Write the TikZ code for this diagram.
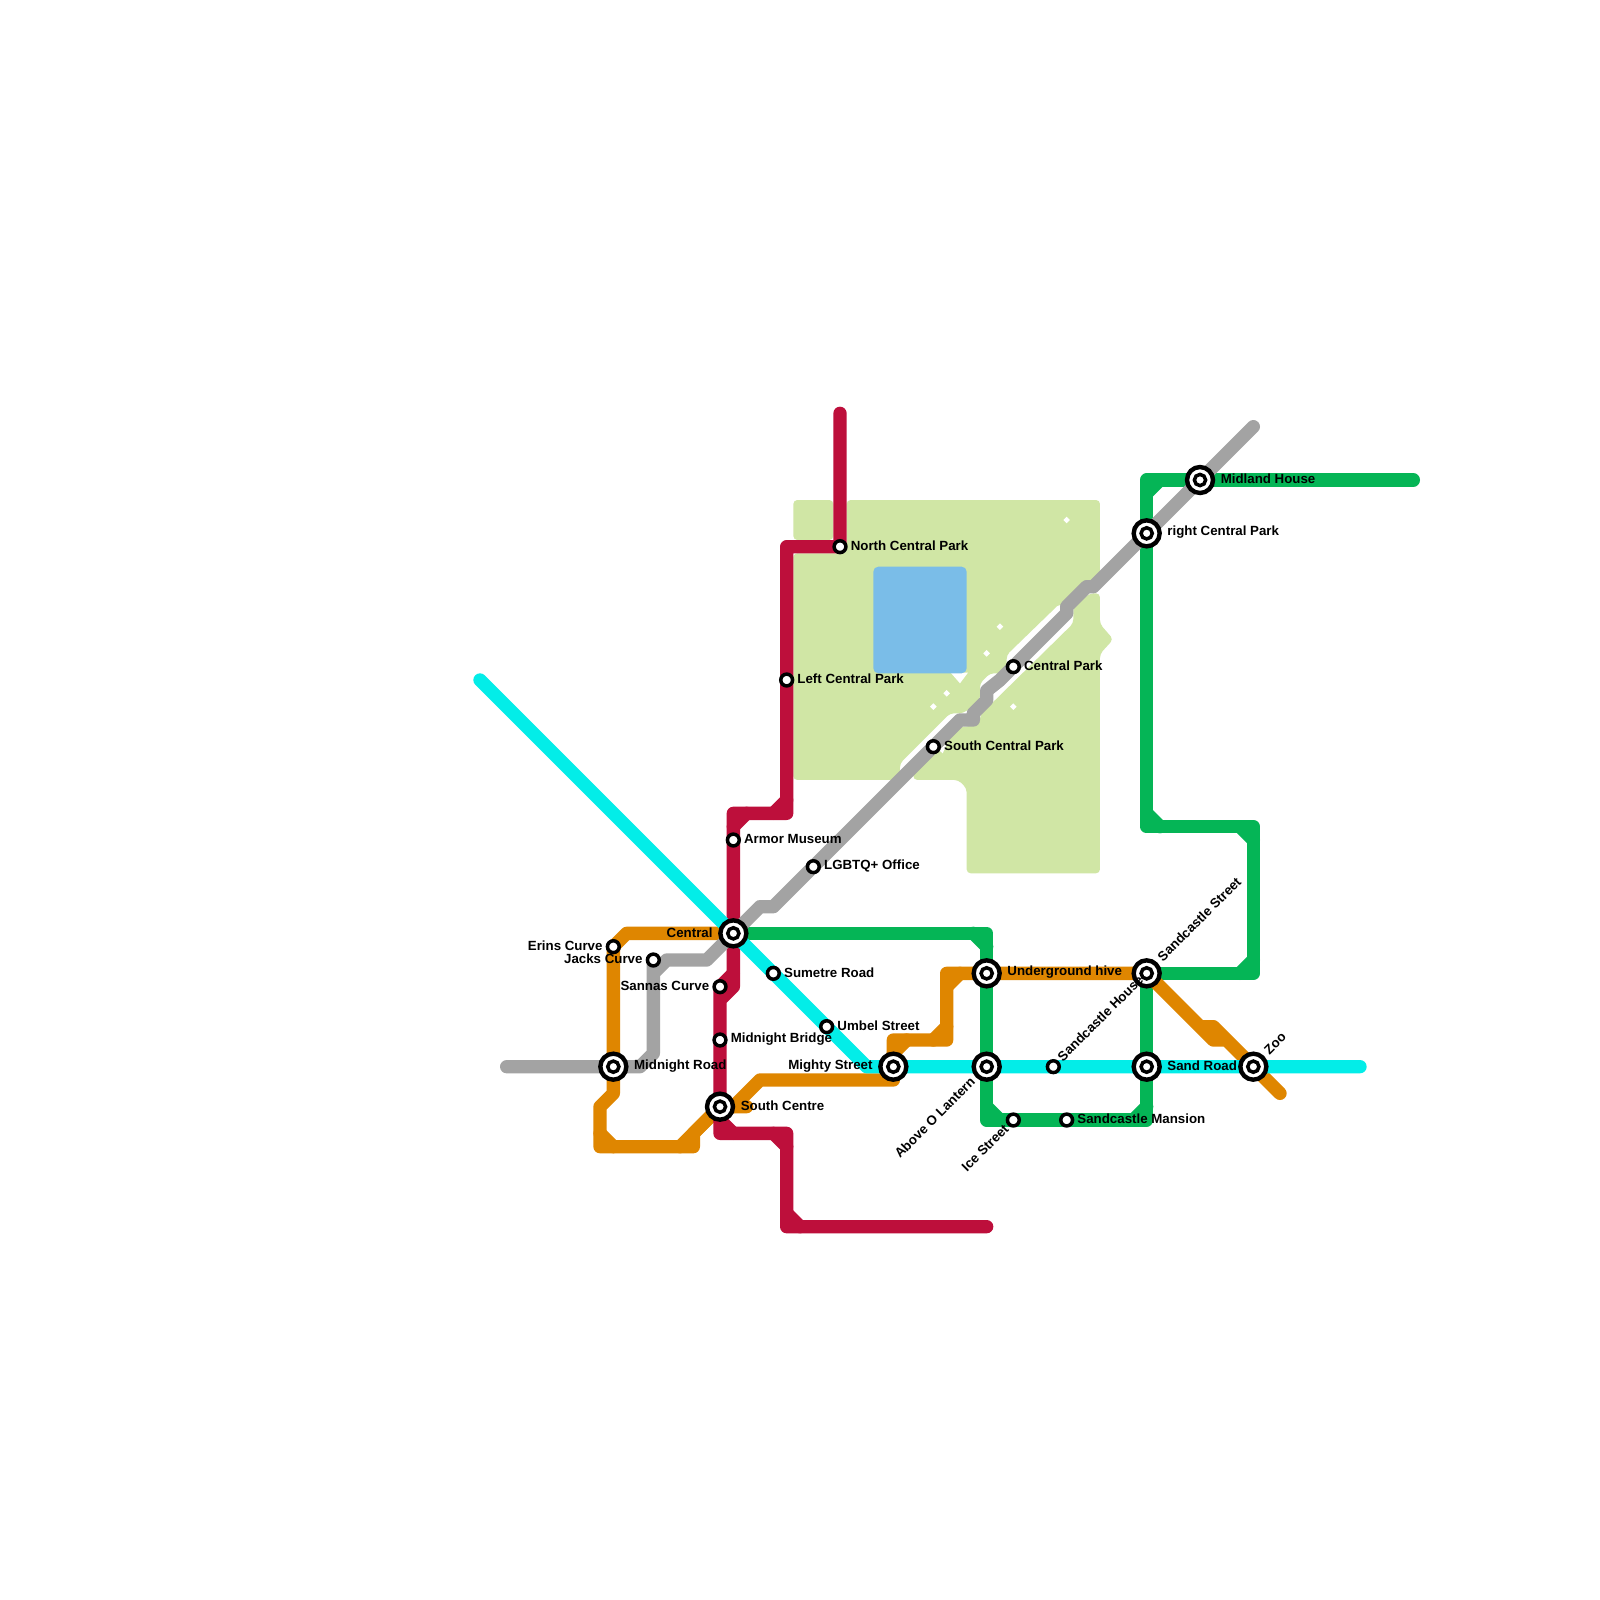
\documentclass[tikz,border=0pt]{standalone}
\usepackage{fontspec}
\setmainfont{Liberation Sans}
\definecolor{parkc}{HTML}{D0E6A5}
\definecolor{lakec}{HTML}{7ABDE8}
\definecolor{cyanl}{HTML}{03EDE8}
\definecolor{greyl}{HTML}{A3A3A3}
\definecolor{redl}{HTML}{BD0F3B}
\definecolor{greenl}{HTML}{05B556}
\definecolor{orangel}{HTML}{DF8600}
\tikzset{
  metro/.style={line width=13.33pt,line join=round,line cap=round},
  park/.style={fill=parkc,rounded corners=4pt},
  gapmark/.style={fill=white},
  stopst/.style={circle,draw=black,fill=white,line width=3.5pt,outer sep=0pt,minimum size=11.8pt,inner sep=0pt},
  hubouter/.style={circle,draw=black,fill=white,line width=4.4pt,outer sep=0pt,minimum size=26pt,inner sep=0pt},
  hubinner/.style={circle,draw=black,fill=white,line width=3.5pt,outer sep=0pt,minimum size=11.2pt,inner sep=0pt},
  lbl/.style={font=\fontsize{13.3}{15}\selectfont\bfseries,inner sep=0pt,text=black},
  lblr/.style={lbl,anchor=west},
  lbll/.style={lbl,anchor=east},
  lblu/.style={lbl,anchor=west,rotate=45},
  lbld/.style={lbl,anchor=east,rotate=45},
}
\newcommand{\hub}[2]{\node[hubouter] (#1) at (#2) {};\node[hubinner] (#1-in) at (#2) {};}
\begin{document}
\begin{tikzpicture}[x=13.3333pt,y=-13.3333pt]
\fill[white] (0,0) rectangle (120,120);
\useasboundingbox (0,0) rectangle (120,120);
% park, in 3x crop coordinates
\begin{scope}[shift={(57,36)},x=0.3333pt,y=-0.3333pt]
\fill[park] (100,60) -- (220,60) -- (220,180) -- (100,180) -- cycle;
\fill[park] (260,60) -- (1020,60) -- (1020,300) -- (990,300) -- (910,380) -- (900,370) -- (740,525) -- (740,580) -- (690,580) -- (660,610) -- (660,660) -- (610,700) -- (570,700) -- (420,850) -- (420,900) -- (100,900) -- (100,220) -- (260,220) -- cycle;
\fill[park] (460,870) -- (600,740) -- (630,740) -- (660,710) -- (660,705) -- (940,430) -- (940,380) -- (990,340) -- (1020,340) -- (1020,432) -- (1060,478) -- (1020,522) -- (1020,1180) -- (620,1180) -- (620,925) -- (595,900) -- (460,900) -- cycle;
\foreach \a/\b in {920/120,720/440,680/520,560/640,520/680,760/680}
  \fill[gapmark] (\a,\b-10) -- (\a+10,\b) -- (\a,\b+10) -- (\a-10,\b) -- cycle;
\fill[gapmark] (572,578) -- (600,610) -- (624,578) -- cycle;
\fill[gapmark] (535,808) -- (562,790) -- (548,820) -- cycle;
\fill[lakec,rounded corners=5pt] (340,260) rectangle (620,580);
\end{scope}
% station positions
\coordinate (Pcentral) at (55,70);
\coordinate (Pmidroad) at (46,80);
\coordinate (Psouth) at (54,83);
\coordinate (Pmighty) at (67,80);
\coordinate (Perins) at (46,71);
\coordinate (Pjacks) at (49,72);
\coordinate (Psannas) at (54,74);
\coordinate (Pmidbr) at (54,78);
\coordinate (Psumetre) at (58,73);
\coordinate (Pumbel) at (62,77);
\coordinate (Parmor) at (55,63);
\coordinate (Plgbt) at (61,65);
\coordinate (Pscp) at (70,56);
\coordinate (Pcp) at (76,50);
\coordinate (Plcp) at (59,51);
\coordinate (Pncp) at (63,41);
\coordinate (Phive) at (74,73);
\coordinate (Plantern) at (74,80);
\coordinate (Pcastle) at (86,73);
\coordinate (Psand) at (86,80);
\coordinate (Pzoo) at (94,80);
\coordinate (Phouse) at (79,80);
\coordinate (Pice) at (76,84);
\coordinate (Pmansion) at (80,84);
\coordinate (Prcp) at (86,40);
\coordinate (Pmidland) at (90,36);
% green
\draw[metro,greenl] (Pcentral) -- (74,70) -- (Phive) -- (Plantern) -- (74,84) -- (Pice) -- (Pmansion) -- (86,84) -- (Psand) -- (Pcastle) -- (94,73) -- (94,62) -- (86,62) -- (Prcp) -- (86,36) -- (Pmidland) -- (106,36);
\draw[metro,greenl] (73,70) -- (74,71) (74,83) -- (75,84) (85,84) -- (86,83) (93,73) -- (94,72) (93,62) -- (94,63) (87,62) -- (86,61) (86,37) -- (87,36);
% orange
\draw[metro,orangel] (Pcentral) -- (47,70) -- (Perins) -- (Pmidroad) -- (46,82) -- (45,83) -- (45,86) -- (52,86) -- (52,85) -- (Psouth);
\draw[metro,orangel] (45,85) -- (46,86);
\draw[metro,orangel] (51,86) -- (Psouth) -- (56,83);
\draw[metro,orangel] (Psouth) -- (55,83) -- (57,81) -- (67,81) -- (Pmighty) -- (67,78) -- (71,78) -- (71,73) -- (Phive) -- (Pcastle) -- (90,77) -- (91,78) -- (92,78) -- (91,77) -- (90,77) -- (91,77) -- (96,82);
\draw[metro,orangel] (68,78) -- (67,79) (70,78) -- (71,77) (71,74) -- (72,73);
% red
\draw[metro,redl] (63,31) -- (Pncp) -- (59,41) -- (Plcp) -- (59,61) -- (55,61) -- (Parmor) -- (Pcentral) -- (55,74) -- (54,75) -- (Psannas) -- (Pmidbr) -- (Psouth) -- (54,85) -- (59,85) -- (59,92) -- (74,92);
\draw[metro,redl] (58,61) -- (59,60) (56,61) -- (55,62) (55,73) -- (54,74) (54,84) -- (55,85) (58,85) -- (59,86) (59,91) -- (60,92);
% grey
\draw[metro,greyl] (38,80) -- (Pmidroad) -- (48,80) -- (49,79) -- (Pjacks) -- (49,73) -- (50,72) -- (53,72) -- (Pcentral) -- (57,68) -- (58,68) -- (Plgbt) -- (Pscp) -- (72,54) -- (73,54) -- (73,53.5) -- (74,52.5) -- (74,51.8) -- (75,51) -- (Pcp) -- (80,46) -- (80,45.5) -- (81.5,44) -- (82,44) -- (Prcp) -- (Pmidland) -- (94,32);
% cyan
\draw[metro,cyanl] (36,51) -- (Pcentral) -- (Psumetre) -- (Pumbel) -- (65,80) -- (Pmighty) -- (Plantern) -- (Phouse) -- (Psand) -- (Pzoo) -- (102,80);
% stations
\hub{central}{Pcentral}
\hub{midroad}{Pmidroad}
\hub{south}{Psouth}
\hub{mighty}{Pmighty}
\hub{hive}{Phive}
\hub{lantern}{Plantern}
\hub{castle}{Pcastle}
\hub{sand}{Psand}
\hub{zoo}{Pzoo}
\hub{rcp}{Prcp}
\hub{midland}{Pmidland}
\node[stopst] (erins) at (Perins) {};
\node[stopst] (jacks) at (Pjacks) {};
\node[stopst] (sannas) at (Psannas) {};
\node[stopst] (midbr) at (Pmidbr) {};
\node[stopst] (sumetre) at (Psumetre) {};
\node[stopst] (umbel) at (Pumbel) {};
\node[stopst] (armor) at (Parmor) {};
\node[stopst] (lgbt) at (Plgbt) {};
\node[stopst] (scp) at (Pscp) {};
\node[stopst] (cp) at (Pcp) {};
\node[stopst] (lcp) at (Plcp) {};
\node[stopst] (ncp) at (Pncp) {};
\node[stopst] (house) at (Phouse) {};
\node[stopst] (ice) at (Pice) {};
\node[stopst] (mansion) at (Pmansion) {};
% labels
\node[lbll] (Lcentral) at ([shift={(-20.6pt,1pt)}]Pcentral) {Central};
\node[lblr] (Lmidroad) at ([shift={(20.6pt,1pt)}]Pmidroad) {Midnight Road};
\node[lblr] (Lsouth) at ([shift={(20.6pt,1pt)}]Psouth) {South Centre};
\node[lbll] (Lmighty) at ([shift={(-20.6pt,1pt)}]Pmighty) {Mighty Street};
\node[lblr] (Lhive) at ([shift={(20.6pt,1pt)}]Phive) {Underground hive};
\node[lblr] (Lsand) at ([shift={(20.6pt,1pt)}]Psand) {Sand Road};
\node[lblr] (Lrcp) at ([shift={(20.6pt,1pt)}]Prcp) {right Central Park};
\node[lblr] (Lmidland) at ([shift={(20.6pt,1pt)}]Pmidland) {Midland House};
\node[lbll] (Lerins) at ([shift={(-10.6pt,1pt)}]Perins) {Erins Curve};
\node[lbll] (Ljacks) at ([shift={(-10.6pt,1pt)}]Pjacks) {Jacks Curve};
\node[lbll] (Lsannas) at ([shift={(-10.6pt,1pt)}]Psannas) {Sannas Curve};
\node[lblr] (Lmidbr) at ([shift={(10.6pt,1pt)}]Pmidbr) {Midnight Bridge};
\node[lblr] (Lsumetre) at ([shift={(10.6pt,1pt)}]Psumetre) {Sumetre Road};
\node[lblr] (Lumbel) at ([shift={(10.6pt,1pt)}]Pumbel) {Umbel Street};
\node[lblr] (Larmor) at ([shift={(10.6pt,1pt)}]Parmor) {Armor Museum};
\node[lblr] (Llgbt) at ([shift={(10.6pt,1pt)}]Plgbt) {LGBTQ+ Office};
\node[lblr] (Lscp) at ([shift={(10.6pt,1pt)}]Pscp) {South Central Park};
\node[lblr] (Lcp) at ([shift={(10.6pt,1pt)}]Pcp) {Central Park};
\node[lblr] (Llcp) at ([shift={(10.6pt,1pt)}]Plcp) {Left Central Park};
\node[lblr] (Lncp) at ([shift={(10.6pt,1pt)}]Pncp) {North Central Park};
\node[lblr] (Lmansion) at ([shift={(10.6pt,1pt)}]Pmansion) {Sandcastle Mansion};
\node[lblu] (Lcastle) at ([shift={(13pt,14.5pt)}]Pcastle) {Sandcastle Street};
\node[lblu] (Lhouse) at ([shift={(6.3pt,7.8pt)}]Phouse) {Sandcastle House};
\node[lblu] (Lzoo) at ([shift={(13pt,14.5pt)}]Pzoo) {Zoo};
\node[lbld] (Llantern) at ([shift={(-14pt,-13pt)}]Plantern) {Above O Lantern};
\node[lbld] (Lice) at ([shift={(-7pt,-6.5pt)}]Pice) {Ice Street};
\end{tikzpicture}
\end{document}
